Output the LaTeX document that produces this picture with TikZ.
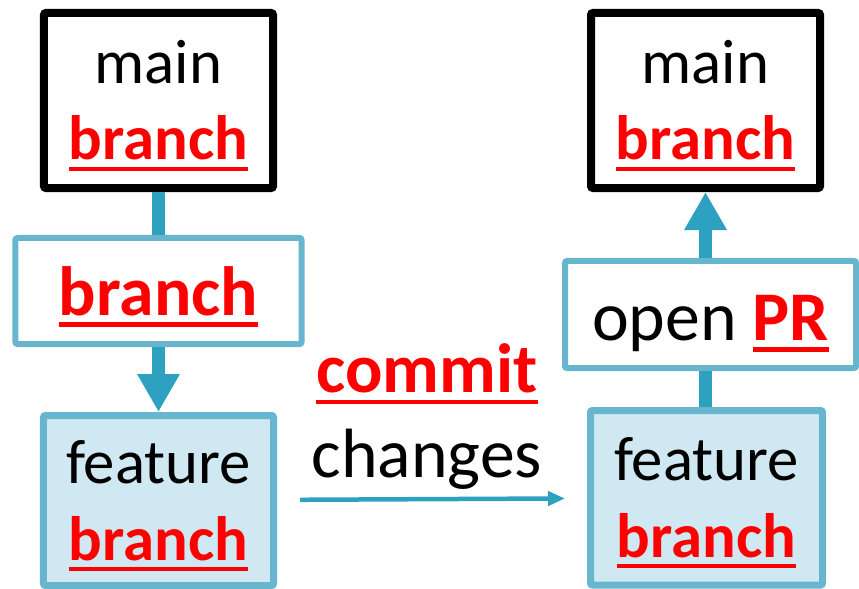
\documentclass[tikz,border=0pt]{standalone}
\usepackage{fontspec}
\setmainfont{Carlito}
\usetikzlibrary{arrows.meta,positioning}

\definecolor{boxline}{RGB}{104,182,206}
\definecolor{linkteal}{RGB}{47,161,192}
\definecolor{featfill}{RGB}{208,232,242}
\definecolor{hlred}{RGB}{255,0,0}
% bold red word with a thick rule under it
\newcommand{\redul}[1]{{\color{hlred}\bfseries\setbox0\hbox{#1}\rlap{\rule[-0.17em]{\wd0}{0.065em}}\box0}}

\begin{document}
\begin{tikzpicture}[x=1bp,y=-1bp,inner sep=0pt,align=center]
  \tikzstyle{mainbox}=[draw=black,line width=8bp,fill=white,rounded corners=2bp,
                       minimum width=229bp,minimum height=175bp,
                       font=\fontsize{63}{77}\selectfont,text height=120bp,text depth=1bp]
  \tikzstyle{stepbox}=[draw=boxline,line width=6bp,fill=white,rounded corners=2bp,
                       font=\fontsize{70}{85}\selectfont,text height=50bp,text depth=2bp]
  \tikzstyle{featbox}=[draw=boxline,line width=7bp,fill=featfill,rounded corners=2bp,
                       font=\fontsize{63}{77}\selectfont,text height=120bp,text depth=1bp]
  \tikzstyle{link}=[draw=linkteal,line width=13bp]
  \tikzstyle{linkhead}=[link,-{Triangle[width=40bp,length=38bp]}]
  \tikzstyle{commitarrow}=[draw=linkteal,line width=4.5bp,-{Triangle[width=14bp,length=17bp]},
                           shorten <=23bp,shorten >=22bp]

  \useasboundingbox (0,0) rectangle (859,589);

  \node[mainbox] (mainL) at (158.5,100.5) {main\\\redul{branch}};
  \node[stepbox,minimum width=286bp,minimum height=106bp] (branchL) at (158.5,291) {\redul{branch}};
  \node[featbox,minimum width=230bp,minimum height=170bp] (featL) at (158.5,500.5) {feature\\\redul{branch}};

  \node[mainbox] (mainR) at (705.5,100.5) {main\\\redul{branch}};
  \node[stepbox,minimum width=291bp,minimum height=107bp,text height=52bp,text depth=1bp]
       (prR) at (710.5,314.5) {open \redul{PR}};
  \node[featbox,minimum width=232bp,minimum height=174.5bp,text height=121bp,text depth=1.5bp]
       (featR) at (706.5,497.75) {feature\\\redul{branch}};

  \node[anchor=base,font=\fontsize{70}{85}\selectfont] (commitlbl) at (427,477)
       {\redul{commit}\\changes};

  \draw[link] (mainL) -- (branchL);
  \draw[linkhead] (branchL) -- (featL);
  \draw[link] (featR.north -| mainR) -- (prR.south -| mainR);
  \draw[linkhead] (prR.north -| mainR) -- (mainR.south);
  \draw[commitarrow] (featL) -- (featR);

\end{tikzpicture}
\end{document}
